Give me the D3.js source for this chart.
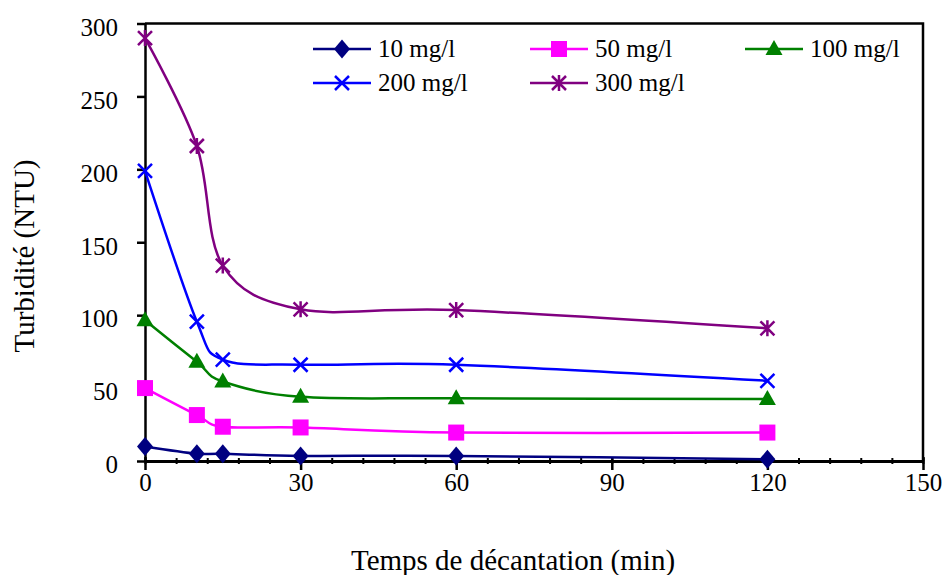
<!DOCTYPE html>
<html>
<head>
<meta charset="utf-8">
<script src="https://cdn.jsdelivr.net/npm/d3@7"></script>
<style>
  body { margin: 0; background: #fff; }
  svg { display: block; }
  text { font-family: "Liberation Serif", "Times New Roman", serif; fill: #000; }
</style>
</head>
<body>
<svg id="chart" width="947" height="575"></svg>
<script>
// ---- data ----
const times = [0, 10, 15, 30, 60, 120];
const seriesNames = ["10 mg/l", "50 mg/l", "100 mg/l", "200 mg/l", "300 mg/l"];
const s10  = [10, 5, 5, 3.5, 3.5, 1.2];
const s50  = [50, 31.5, 23.5, 23, 19.5, 19.5];
const s100 = [96.5, 68, 54.5, 44, 43, 42.5];
const s200 = [199, 95.5, 69.5, 66, 66, 55];
const s300 = [290, 216, 134, 104, 103.5, 91];
const seriesValues = [s10, s50, s100, s200, s300];
const seriesColors = ["#000080", "#FF00FF", "#008000", "#0000FF", "#800080"];
const seriesMarkers = ["diamond", "square", "triangle", "x", "asterisk"];
const xTicks = [0, 30, 60, 90, 120, 150];
const xMinorTicks = d3.range(0, 151, 6);
const yTicks = [0, 50, 100, 150, 200, 250, 300];
const xTitle = "Temps de décantation (min)";
const yTitle = "Turbidité (NTU)";

const FONT = '"Liberation Serif", "Times New Roman", serif';

// ---- layout ----
const svg = d3.select("#chart");
const pLeft = 145, pRight = 923, pTop = 23.5, pBottom = 461;
const x = d3.scaleLinear().domain([0, 150]).range([pLeft, pRight]);
const y = d3.scaleLinear().domain([0, 300]).range([pBottom, pTop]);

// frame (top + right)
svg.append("path")
  .attr("d", `M${pLeft},${pTop}H${pRight}V${pBottom}`)
  .attr("fill", "none").attr("stroke", "#000").attr("stroke-width", 2.5);

// y axis
const yAxis = svg.append("g").attr("transform", `translate(${pLeft},0)`)
  .call(d3.axisLeft(y).tickValues(yTicks).tickSizeInner(8).tickSizeOuter(0).tickPadding(19).tickFormat(d3.format("d")));
yAxis.attr("font-family", null);
yAxis.select(".domain").attr("stroke-width", 2.5);
yAxis.selectAll(".tick line").attr("stroke-width", 2.5);
yAxis.selectAll(".tick text").attr("dy", "0.47em")
  .style("font-family", FONT).style("font-size", "25px");

// x axis minor ticks
const xMinor = svg.append("g").attr("transform", `translate(0,${pBottom})`)
  .call(d3.axisBottom(x).tickValues(xMinorTicks).tickSize(3).tickFormat(""));
xMinor.select(".domain").remove();
xMinor.selectAll(".tick line").attr("y1", -3).attr("y2", 3).attr("stroke-width", 2);

// x axis major
const xAxis = svg.append("g").attr("transform", `translate(0,${pBottom})`)
  .call(d3.axisBottom(x).tickValues(xTicks).tickSizeInner(9).tickSizeOuter(0).tickPadding(3).tickFormat(d3.format("d")));
xAxis.attr("font-family", null);
xAxis.select(".domain").attr("stroke-width", 3);
xAxis.selectAll(".tick line").attr("y1", -4).attr("stroke-width", 2.5);
xAxis.selectAll(".tick text")
  .style("font-family", FONT).style("font-size", "25px");

// titles
svg.append("text").attr("x", 513).attr("y", 570).attr("text-anchor", "middle")
  .style("font-family", FONT).style("font-size", "29px").text(xTitle);
svg.append("text").attr("transform", "translate(34,256) rotate(-90)")
  .attr("text-anchor", "middle")
  .style("font-family", FONT).style("font-size", "29px").text(yTitle);

// markers
function drawMarker(g, type, color, cx, cy) {
  if (type === "diamond") {
    g.append("path").attr("d", `M${cx},${cy - 9.5}L${cx + 8},${cy}L${cx},${cy + 9.5}L${cx - 8},${cy}Z`)
      .attr("fill", color);
  } else if (type === "square") {
    g.append("rect").attr("x", cx - 8).attr("y", cy - 8).attr("width", 16).attr("height", 16)
      .attr("fill", color);
  } else if (type === "triangle") {
    g.append("path").attr("d", `M${cx},${cy - 9}L${cx + 8.5},${cy + 6}L${cx - 8.5},${cy + 6}Z`)
      .attr("fill", color);
  } else if (type === "x") {
    const r = 7;
    g.append("path").attr("d", `M${cx - r},${cy - r}L${cx + r},${cy + r}M${cx - r},${cy + r}L${cx + r},${cy - r}`)
      .attr("stroke", color).attr("stroke-width", 2.5).attr("fill", "none");
  } else if (type === "asterisk") {
    const r = 7;
    g.append("path").attr("d", `M${cx - r},${cy - r}L${cx + r},${cy + r}M${cx - r},${cy + r}L${cx + r},${cy - r}M${cx},${cy - r - 1}L${cx},${cy + r + 1}`)
      .attr("stroke", color).attr("stroke-width", 2.5).attr("fill", "none");
  }
}

const line = d3.line().x(d => x(d[0])).y(d => y(d[1])).curve(d3.curveCardinal.tension(0));

seriesValues.forEach((vals, i) => {
  const pts = times.map((t, j) => [t, vals[j]]);
  const g = svg.append("g");
  g.append("path").datum(pts).attr("d", line).attr("fill", "none")
    .attr("stroke", seriesColors[i]).attr("stroke-width", 2.5);
  pts.forEach(p => drawMarker(g, seriesMarkers[i], seriesColors[i], x(p[0]), y(p[1])));
});

// legend
const legendPos = [[313, 49], [530, 49], [745, 49], [313, 83], [530, 83]];
seriesNames.forEach((name, i) => {
  const [lx, ly] = legendPos[i];
  const g = svg.append("g");
  g.append("line").attr("x1", lx).attr("x2", lx + 58).attr("y1", ly).attr("y2", ly)
    .attr("stroke", seriesColors[i]).attr("stroke-width", 2.5);
  drawMarker(g, seriesMarkers[i], seriesColors[i], lx + 29, ly);
  g.append("text").attr("x", lx + 65).attr("y", ly + 8)
    .style("font-family", FONT).style("font-size", "25px").text(name);
});
</script>
</body>
</html>
